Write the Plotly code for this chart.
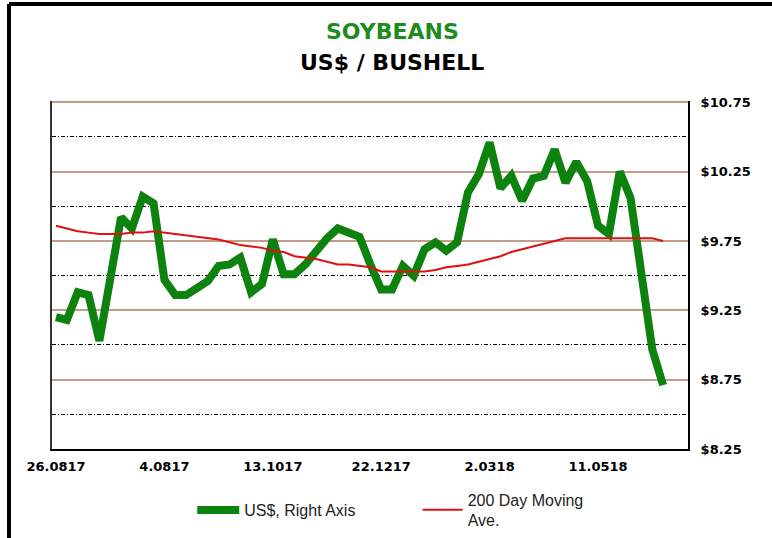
import plotly.graph_objects as go

# ---- data (weekly observations) ----
week = list(range(57))
price_usd = [9.20, 9.18, 9.38, 9.36, 9.03, 9.46, 9.92, 9.84, 10.07, 10.02,
             9.47, 9.36, 9.36, 9.41, 9.46, 9.57, 9.58, 9.63, 9.38, 9.44,
             9.76, 9.51, 9.51, 9.58, 9.68, 9.77, 9.84, 9.81, 9.78, 9.58,
             9.40, 9.40, 9.57, 9.50, 9.69, 9.74, 9.68, 9.74, 10.10, 10.23,
             10.46, 10.13, 10.22, 10.04, 10.20, 10.22, 10.41, 10.17, 10.32, 10.18,
             9.86, 9.80, 10.25, 10.06, 9.53, 8.97, 8.71]
ma200 = [9.86, 9.84, 9.82, 9.81, 9.80, 9.80, 9.80, 9.81, 9.81, 9.82,
         9.81, 9.80, 9.79, 9.78, 9.77, 9.76, 9.74, 9.72, 9.71, 9.70,
         9.68, 9.67, 9.64, 9.63, 9.62, 9.60, 9.58, 9.58, 9.57, 9.56,
         9.53, 9.53, 9.53, 9.53, 9.53, 9.54, 9.56, 9.57, 9.58, 9.60,
         9.62, 9.64, 9.67, 9.69, 9.71, 9.73, 9.75, 9.77, 9.77, 9.77,
         9.77, 9.77, 9.77, 9.77, 9.77, 9.77, 9.75]
x_tick_pos = [0, 10, 20, 30, 40, 50]
x_tick_labels = ["26.0817", "4.0817", "13.1017", "22.1217", "2.0318", "11.0518"]
y_major = [8.25, 8.75, 9.25, 9.75, 10.25, 10.75]
y_major_labels = ["$8.25", "$8.75", "$9.25", "$9.75", "$10.25", "$10.75"]
y_minor = [8.5, 9.0, 9.5, 10.0, 10.5]

GREEN = "#0e820e"
RED = "#e01010"
BROWN = "#c49c8a"
TICKFONT = dict(family="DejaVu Sans", size=13, color="black", weight="bold")
LEGFONT = dict(family="Liberation Sans", size=16, color="#222")

fig = go.Figure()
fig.add_trace(go.Scatter(x=week, y=price_usd, mode="lines", name="US$, Right Axis",
                         line=dict(color=GREEN, width=8), yaxis="y", legend="legend"))
fig.add_trace(go.Scatter(x=week, y=ma200, mode="lines", name="200 Day Moving<br>Ave.",
                         line=dict(color=RED, width=2), yaxis="y2", legend="legend2"))

yr = [8.2499, 10.759]
fig.update_layout(
    width=772, height=538,
    margin=dict(l=52, r=84, t=101, b=89, autoexpand=False),
    paper_bgcolor="white", plot_bgcolor="white",
    showlegend=True,
    legend=dict(xref="container", yref="container", x=0.249, xanchor="left",
                y=0.052, yanchor="middle", font=LEGFONT, itemwidth=42,
                bgcolor="rgba(0,0,0,0)"),
    legend2=dict(xref="container", yref="container", x=0.541, xanchor="left",
                 y=0.052, yanchor="middle", font=LEGFONT, itemwidth=40,
                 bgcolor="rgba(0,0,0,0)", valign="middle"),
    xaxis=dict(range=[-0.37, 58.3], tickvals=x_tick_pos, ticktext=x_tick_labels,
               showgrid=False, zeroline=False, showline=True, linecolor="black",
               linewidth=2, tickfont=TICKFONT, ticks="", ticklabelstandoff=4,
               tickangle=0, automargin=False),
    yaxis=dict(range=yr, side="right", tickvals=y_major, ticktext=y_major_labels,
               showgrid=True, gridcolor=BROWN, gridwidth=1.5, zeroline=False,
               showline=True, linecolor="black", linewidth=2,
               tickfont=TICKFONT, ticks="", ticklabelstandoff=8, automargin=False),
    yaxis2=dict(range=yr, overlaying="y", side="left", tickvals=y_minor,
                showticklabels=False, showgrid=True, gridcolor="black", gridwidth=1,
                griddash="4px,2px,1px,2px", zeroline=False,
                showline=True, linecolor="#333", linewidth=2, automargin=False),
    annotations=[
        dict(text="<b>SOYBEANS</b>", xref="paper", yref="paper", x=0.535, y=1.2,
             xanchor="center", yanchor="middle", showarrow=False,
             font=dict(family="DejaVu Sans", size=22, color="#1c8c1c")),
        dict(text="<b>US$ / BUSHELL</b>", xref="paper", yref="paper", x=0.535, y=1.112,
             xanchor="center", yanchor="middle", showarrow=False,
             font=dict(family="DejaVu Sans", size=22, color="black")),
    ],
    shapes=[
        dict(type="line", xref="paper", yref="paper", x0=-0.0676, x1=-0.0676,
             y0=-0.27, y1=1.2785, line=dict(color="black", width=4)),
        dict(type="line", xref="paper", yref="paper", x0=-0.0676, x1=1.14,
             y0=1.2785, y1=1.2785, line=dict(color="black", width=4)),
    ],
)

fig.write_html("out.html", config={"displayModeBar": False},
               post_script="document.body.style.margin='0';")
